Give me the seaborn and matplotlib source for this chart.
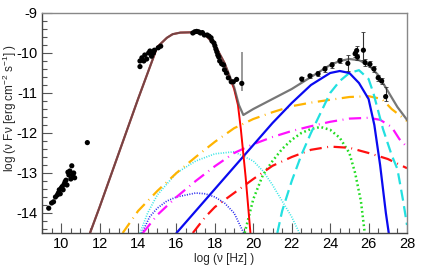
import numpy as np
import pandas as pd
import seaborn as sns
import matplotlib.pyplot as plt
from matplotlib.ticker import MultipleLocator

# ---- model curves (log nu, log nuFnu) ----
total_x = [11.5, 12.0, 13.0, 14.0, 15.0, 15.5, 15.8, 16.2, 17.0, 17.5, 18.0, 18.5, 19.0, 19.25, 19.48,
           20.0, 21.0, 22.0, 23.0, 24.0, 24.5, 25.0, 25.5, 26.0, 26.5, 27.0, 27.5, 28.0]
total_y = [-14.5, -13.85, -12.5, -11.15, -9.85, -9.62, -9.53, -9.49, -9.48, -9.55, -9.8, -10.25, -10.85, -11.3, -11.55,
           -11.4, -11.15, -10.9, -10.6, -10.3, -10.2, -10.15, -10.18, -10.3, -10.55, -10.95, -11.35, -11.67]

sync_x = [11.5, 12.0, 13.0, 14.0, 15.0, 15.5, 15.8, 16.2, 17.0, 17.5, 18.0, 18.5, 19.0, 19.2, 19.35, 19.6, 19.85]
sync_y = [-14.5, -13.85, -12.5, -11.15, -9.85, -9.62, -9.53, -9.49, -9.48, -9.55, -9.8, -10.25, -10.9, -11.3, -11.9, -13.1, -14.5]

blue_x = [16.0, 17.0, 18.0, 19.0, 20.0, 21.0, 22.0, 23.0, 24.0, 24.5, 25.0, 25.5, 26.0, 26.3, 26.6, 26.9, 27.05]
blue_y = [-14.5, -13.95, -13.4, -12.85, -12.3, -11.75, -11.25, -10.8, -10.5, -10.45, -10.5, -10.75, -11.15, -11.8, -12.8, -14.0, -14.5]

orange_x = [13.2, 14.0, 15.0, 16.0, 17.0, 18.0, 19.0, 20.0, 21.0, 22.0, 23.0, 24.0, 25.0, 26.0, 26.7, 27.2, 28.0]
orange_y = [-14.5, -13.95, -13.45, -13.0, -12.6, -12.22, -11.88, -11.65, -11.48, -11.33, -11.24, -11.17, -11.1, -11.08, -11.15, -11.4, -11.7]

magenta_x = [14.25, 15.0, 16.0, 17.0, 18.0, 19.0, 20.0, 21.0, 22.0, 23.0, 24.0, 25.0, 26.0, 26.6, 27.2, 27.6, 28.0]
magenta_y = [-14.5, -14.05, -13.6, -13.2, -12.83, -12.5, -12.28, -12.1, -11.95, -11.83, -11.72, -11.64, -11.62, -11.67, -11.85, -12.15, -12.35]

cyandot_x = [14.1, 14.5, 15.0, 16.0, 17.0, 18.0, 19.0, 20.0, 20.5, 21.0, 21.5, 22.0, 22.4]
cyandot_y = [-14.5, -14.0, -13.55, -13.0, -12.7, -12.52, -12.47, -12.7, -12.95, -13.3, -13.7, -14.1, -14.5]

bluedot_x = [14.2, 14.6, 15.0, 15.5, 16.0, 17.0, 17.5, 18.0, 18.5, 19.0, 19.3, 19.5]
bluedot_y = [-14.5, -14.1, -13.88, -13.7, -13.6, -13.5, -13.52, -13.6, -13.75, -14.0, -14.3, -14.5]

reddash_x = [16.85, 17.5, 18.0, 19.0, 20.0, 21.0, 22.0, 23.0, 24.0, 25.0, 26.0, 27.0, 28.0]
reddash_y = [-14.5, -14.1, -13.85, -13.5, -13.15, -12.82, -12.6, -12.42, -12.34, -12.37, -12.5, -12.65, -12.88]

green_x = [19.55, 20.0, 20.5, 21.0, 21.5, 22.0, 22.5, 23.0, 23.5, 24.0, 24.5, 25.0, 25.3, 25.6, 25.8]
green_y = [-14.5, -13.65, -13.05, -12.7, -12.4, -12.17, -12.0, -11.9, -11.85, -11.92, -12.12, -12.5, -13.0, -13.7, -14.5]

cyandash_x = [21.25, 21.5, 22.0, 22.5, 23.0, 23.5, 24.0, 24.5, 25.0, 25.5, 26.0, 26.25, 26.75, 27.2, 27.5, 27.8, 28.0]
cyandash_y = [-14.5, -13.95, -13.2, -12.55, -12.0, -11.5, -11.0, -10.7, -10.5, -10.43, -10.65, -11.0, -11.9, -12.55, -12.9, -13.7, -14.3]

# ---- measured points ----
radio_x = [9.35, 9.5, 9.6, 9.7, 9.8, 9.85, 9.9, 9.95, 10.0, 10.05, 10.1, 10.15, 10.2, 10.25,
           10.3, 10.35, 10.4, 10.45, 10.5, 10.55, 10.6, 10.65, 10.7, 11.36]
radio_y = [-13.88, -13.75, -13.72, -13.6, -13.55, -13.5, -13.42, -13.52, -13.38, -13.34, -13.42, -13.28,
           -13.22, -13.18, -13.3, -12.98, -13.05, -12.95, -13.15, -12.82, -13.05, -13.0, -13.12, -12.24]

opt_x = [14.1, 14.1, 14.2, 14.3, 14.35, 14.45, 14.55, 14.62, 14.7, 14.8, 14.85, 15.05, 15.18,
         16.85, 16.95, 17.05, 17.15, 17.25, 17.35, 17.45]
opt_y = [-10.34, -10.2, -10.12, -10.2, -10.05, -10.15, -10.0, -9.95, -10.08, -10.0, -9.93, -9.87, -9.83,
         -9.5, -9.47, -9.46, -9.47, -9.5, -9.49, -9.55]

xray_x = [17.6, 17.7, 17.8, 17.85, 17.95, 18.0, 18.05, 18.1, 18.15, 18.2, 18.25, 18.35, 18.45,
          18.5, 18.6, 18.7, 18.85, 18.96, 19.13]
xray_y = [-9.55, -9.58, -9.62, -9.7, -9.75, -9.82, -9.9, -9.97, -10.05, -10.1, -10.2, -10.27, -10.3,
          -10.42, -10.5, -10.62, -10.72, -10.72, -10.66]

xbar_x = [19.4]
xbar_y = [-10.76]
xbar_lo = [0.2]
xbar_hi = [0.78]

gam_x = [22.52, 22.95, 23.37, 23.73, 24.1, 24.51, 24.92, 25.3, 25.38, 25.42, 25.73, 25.82, 26.07, 26.28, 26.5, 26.68, 26.89]
gam_y = [-10.65, -10.57, -10.52, -10.4, -10.3, -10.19, -10.26, -10.02, -9.94, -10.1, -9.93, -10.24, -10.28, -10.4, -10.62, -10.7, -11.09]
gam_lo = [0.06, 0.05, 0.06, 0.07, 0.07, 0.07, 0.2, 0.08, 0.1, 0.08, 0.25, 0.08, 0.08, 0.08, 0.08, 0.08, 0.12]
gam_hi = [0.06, 0.05, 0.06, 0.07, 0.07, 0.07, 0.2, 0.08, 0.12, 0.08, 0.45, 0.08, 0.08, 0.08, 0.08, 0.08, 0.25]

sns.set_style("ticks")
plt.rcParams['font.family'] = ['Liberation Sans', 'DejaVu Sans']
plt.rcParams['axes.unicode_minus'] = False
plt.rcParams['mathtext.fontset'] = 'custom'
plt.rcParams['mathtext.rm'] = 'Liberation Sans'

fig = plt.figure(figsize=(4.21, 2.68), dpi=100)
ax = fig.add_axes([42 / 421, 35 / 268, 365 / 421, 220 / 268])

def curve(xs, ys, color, lw=1.5, ls='-', alpha=1.0):
    sns.lineplot(x=xs, y=ys, ax=ax, color=color, lw=lw, linestyle=ls, sort=False,
                 estimator=None, alpha=alpha)

curve(bluedot_x, bluedot_y, '#2020ee', lw=1.2, ls=(0, (0.6, 0.9)))
curve(cyandot_x, cyandot_y, '#33e5e5', lw=1.2, ls=(0, (0.6, 0.9)))
curve(green_x, green_y, '#22dd22', lw=1.8, ls=(0, (0.7, 1.1)))
curve(reddash_x, reddash_y, '#ff1010', lw=1.6, ls=(0, (5.5, 2.5, 0.4, 2.5)))
curve(magenta_x, magenta_y, '#ff10ff', lw=1.6, ls=(0, (5.5, 2.5, 0.4, 2.5)))
curve(orange_x, orange_y, '#ffb400', lw=1.6, ls=(0, (5.5, 2.5, 0.4, 2.5)))
curve(cyandash_x, cyandash_y, '#22e0e0', lw=1.6, ls=(0, (5, 2.5)))
curve(blue_x, blue_y, '#0a0af0', lw=1.6)
curve(sync_x, sync_y, '#ff0000', lw=1.4)
curve(total_x, total_y, '#555555', lw=1.6, alpha=0.8)

ax.errorbar(xbar_x, xbar_y, yerr=[xbar_lo, xbar_hi], fmt='none', ecolor='#888888', elinewidth=1.2, capsize=0)
ax.errorbar(gam_x, gam_y, yerr=[gam_lo, gam_hi], fmt='none', ecolor='#333333', elinewidth=0.8,
            capsize=1.2, capthick=0.6)

pts = pd.DataFrame({'x': radio_x + opt_x + xray_x + xbar_x + gam_x,
                    'y': radio_y + opt_y + xray_y + xbar_y + gam_y})
sns.scatterplot(data=pts, x='x', y='y', ax=ax, color='black', s=14, edgecolor='none', zorder=5)

ax.set_xlim(9, 28)
ax.set_ylim(-14.5, -9)
ax.xaxis.set_major_locator(MultipleLocator(2))
ax.xaxis.set_minor_locator(MultipleLocator(0.5))
ax.yaxis.set_major_locator(MultipleLocator(1))
ax.yaxis.set_minor_locator(MultipleLocator(0.2))
ax.tick_params(which='both', direction='in', top=False, right=False, colors='#555555',
               labelcolor='black', labelsize=10.5, pad=3)
ax.tick_params(which='major', length=7, width=0.8)
ax.tick_params(which='minor', length=3.5, width=0.8)
for side in ['left', 'bottom']:
    ax.spines[side].set_color('#444444')
    ax.spines[side].set_linewidth(1.0)
for side in ['top', 'right']:
    ax.spines[side].set_color('#888888')
    ax.spines[side].set_linewidth(1.0)

ax.set_xlabel('log (ν [Hz] )', fontsize=8.5, labelpad=1)
ax.set_ylabel('log (ν Fν [erg cm$^{-2}$ s$^{-1}$] )', fontsize=8.5, labelpad=4)
ax.yaxis.set_label_coords(-0.064, 0.57)

fig.savefig('out.png', dpi=100)
